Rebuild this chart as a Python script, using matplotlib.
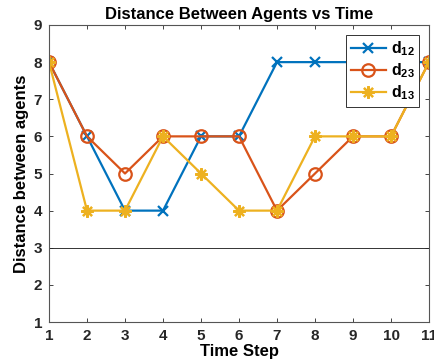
import matplotlib
matplotlib.use("Agg")
import matplotlib.pyplot as plt

plt.rcParams["font.family"] = ["Liberation Sans", "DejaVu Sans"]
plt.rcParams["font.weight"] = "bold"
plt.rcParams["mathtext.fontset"] = "custom"
plt.rcParams["mathtext.rm"] = "Liberation Sans:bold"
plt.rcParams["mathtext.it"] = "Liberation Sans:bold"
plt.rcParams["mathtext.bf"] = "Liberation Sans:bold"

time_step = [1, 2, 3, 4, 5, 6, 7, 8, 9, 10, 11]
d12 = [8, 6, 4, 4, 6, 6, 8, 8, 8, 8, 8]
d23 = [8, 6, 5, 6, 6, 6, 4, 5, 6, 6, 8]
d13 = [8, 4, 4, 6, 5, 4, 4, 6, 6, 6, 8]
labels = [r"$\mathrm{d_{12}}$", r"$\mathrm{d_{23}}$", r"$\mathrm{d_{13}}$"]

BLUE = "#0072BD"
RED = "#D95319"
YELLOW = "#EDB120"
AXC = "#262626"

fig = plt.figure(figsize=(4.34, 3.64), dpi=100)
ax = fig.add_axes([49 / 434, 1 - 322 / 364, 380 / 434, 297 / 364])

ax.plot(time_step, d12, color=BLUE, lw=1.6, marker="x", ms=7, mew=1.6, label=labels[0])
ax.plot(time_step, d23, color=RED, lw=1.6, marker="o", ms=9, mew=1.6,
        mfc="none", label=labels[1])
ax.plot(time_step, d13, color=YELLOW, lw=1.6, marker=(8, 2, 0), ms=9, mew=1.6,
        label=labels[2])
ax.axhline(3, color="#333333", lw=0.7, zorder=0)

ax.set_xlim(1, 11)
ax.set_ylim(1, 9)
ax.set_xticks(time_step)
ax.set_yticks(range(1, 10))
ax.tick_params(direction="in", top=True, right=True, length=3, width=0.6,
               colors=AXC, labelsize=11, pad=5)
for s in ax.spines.values():
    s.set_color("#555555")
    s.set_linewidth(0.8)
for t in ax.get_xticklabels() + ax.get_yticklabels():
    t.set_fontweight("bold")

ax.set_title("Distance Between Agents vs Time", fontsize=12, fontweight="bold", pad=4)
ax.set_xlabel("Time Step", fontsize=12, fontweight="bold", labelpad=1)
ax.set_ylabel("Distance between agents", fontsize=12, fontweight="bold", labelpad=3)

leg = ax.legend(loc="upper right", fontsize=11.5, fancybox=False, framealpha=1,
                edgecolor="#333333", handlelength=2.2, borderpad=0.3,
                labelspacing=0.2, handletextpad=0.3, borderaxespad=0.6)
leg.get_frame().set_linewidth(0.7)

fig.savefig("out.png", dpi=100, facecolor="white")
